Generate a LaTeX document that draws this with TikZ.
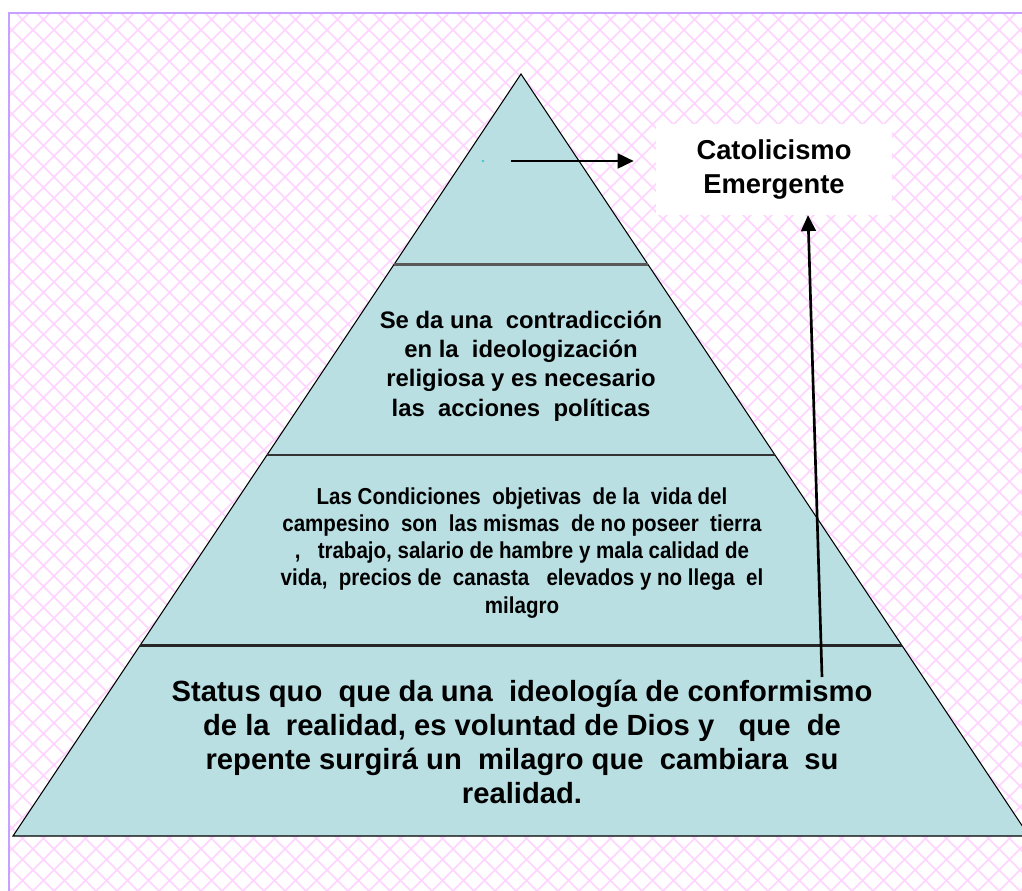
\documentclass[tikz,border=0pt]{standalone}
\usepackage{fontspec}
\setmainfont{Liberation Sans}
\newfontfamily\narrowsans[FakeStretch=0.89]{Liberation Sans}
\usetikzlibrary{arrows.meta,calc}

\definecolor{pyrfill}{RGB}{185,223,227}
\definecolor{hatch}{RGB}{255,212,255}
\definecolor{framecol}{RGB}{200,160,255}
\definecolor{dotcol}{RGB}{60,200,210}

\begin{document}
\begin{tikzpicture}[x=0.75pt, y=-0.75pt,
    levtext/.style={align=center, inner sep=0pt, text=black},
    divider/.style={line width=1.6pt},
    pointer/.style={line width=2pt, -{Triangle[length=12pt,width=11pt]}}]
    \useasboundingbox (0,0) rectangle (1022,891);
    \clip (0,0) rectangle (1022,891);

    % hatched background
    \fill[white] (0,0) rectangle (1022,891);
    \begin{scope}
        \clip (9,13) rectangle (1022,891);
        \foreach \c in {-900,-879,...,1050}
            \draw[hatch, line width=1.3pt] (\c,0) -- ++(900,900);
        \foreach \c in {0,21,...,1950}
            \draw[hatch, line width=1.3pt] (\c,0) -- ++(-900,900);
    \end{scope}
    \draw[framecol, line width=1.5pt] (9,891) -- (9,13) -- (1022,13);

    % pyramid
    \coordinate (apex) at (521,74);
    \coordinate (bl) at (13,836);
    \coordinate (br) at (1029,836);
    \filldraw[fill=pyrfill, draw=black, line width=0.8pt] (apex) -- (bl) -- (br) -- cycle;

    % levels
    \foreach \t/\col in {0.25/black!65, 0.5/black!80, 0.75/black!85}
        \draw[divider, \col] ($(apex)!\t!(bl)$) -- ($(apex)!\t!(br)$);

    % texts of the levels
    \node[levtext, font=\bfseries\fontsize{17.9}{21.9}\selectfont] (contra) at (521,366)
        {Se da una~ contradicción\\ en la~ ideologización\\ religiosa y es necesario\\ las~ acciones~ políticas};
    \node[levtext, font=\narrowsans\bfseries\fontsize{17.3}{20.3}\selectfont] (cond) at (522,553)
        {Las Condiciones~ objetivas~ de la~ vida del\\ campesino~ son~ las mismas~ de no poseer~ tierra\\
         ,~~ trabajo, salario de hambre y mala calidad de\\ vida,~ precios de~ canasta~~ elevados y no llega~ el\\ milagro};
    \node[levtext, font=\bfseries\fontsize{21.9}{25.3}\selectfont] (status) at (522,742)
        {Status quo~ que da una~ ideología de conformismo\\ de la~ realidad, es voluntad de Dios y~~ que~ de\\
         repente surgirá un~ milagro que~ cambiara~ su\\ realidad.};

    % label box
    \node[fill=white, minimum width=177pt, minimum height=68pt, align=center,
          font=\bfseries\fontsize{20.5}{26}\selectfont] (cat) at (774,169.5)
        {Catolicismo\\ Emergente};

    % arrows
    \coordinate (dot) at (483,161);
    \fill[dotcol] (dot) circle (1pt);
    \coordinate (topfrom) at (511,161);
    \draw[pointer, shorten >=16.5pt] (topfrom) -- (topfrom -| cat.west);
    \coordinate (risefrom) at (822,677);
    \draw[pointer] (risefrom) -- ([xshift=25.5pt]cat.south);

\end{tikzpicture}
\end{document}
